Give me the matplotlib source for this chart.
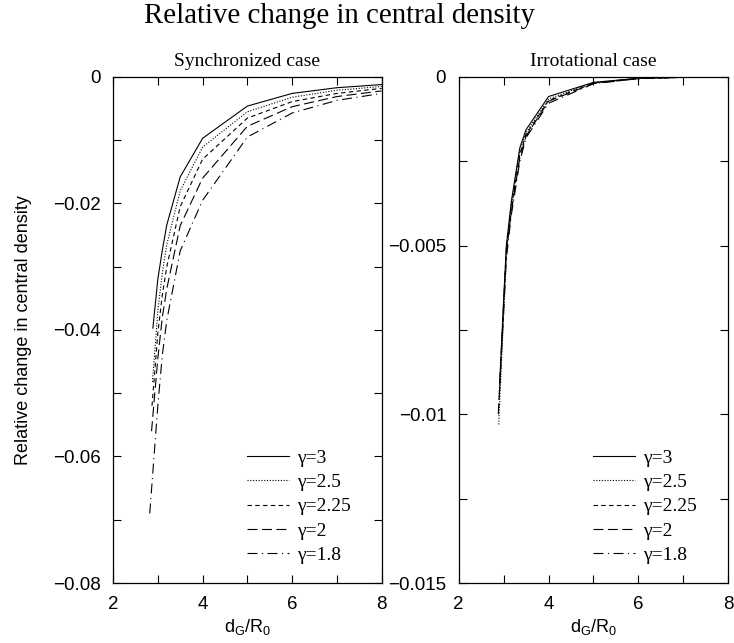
import matplotlib
matplotlib.use('Agg')
import matplotlib.pyplot as plt
from matplotlib.ticker import MultipleLocator

gammas = ['3', '2.5', '2.25', '2', '1.8']

# synchronized case
sync_x = {
    '3':    [2.89, 3.0, 3.1, 3.2, 3.5, 4, 5, 6, 7, 8],
    '2.5':  [2.88, 3.0, 3.1, 3.2, 3.5, 4, 5, 6, 7, 8],
    '2.25': [2.87, 3.0, 3.1, 3.2, 3.5, 4, 5, 6, 7, 8],
    '2':    [2.86, 3.0, 3.1, 3.2, 3.5, 4, 5, 6, 7, 8],
    '1.8':  [2.82, 3.0, 3.1, 3.2, 3.5, 4, 5, 6, 7, 8],
}
sync_y = {
    '3':    [-0.0397, -0.0320, -0.0274, -0.0234, -0.0158, -0.0097, -0.0046, -0.0026, -0.0017, -0.0012],
    '2.5':  [-0.0482, -0.0370, -0.0310, -0.0265, -0.0180, -0.0111, -0.0055, -0.0032, -0.0021, -0.0015],
    '2.25': [-0.0520, -0.0405, -0.0345, -0.0300, -0.0205, -0.0130, -0.0065, -0.0039, -0.0026, -0.0018],
    '2':    [-0.0560, -0.0445, -0.0380, -0.0335, -0.0235, -0.0160, -0.0078, -0.0047, -0.0031, -0.0022],
    '1.8':  [-0.0690, -0.0520, -0.0440, -0.0385, -0.0275, -0.0195, -0.0095, -0.0057, -0.0037, -0.0026],
}

# irrotational case
irr_x = {
    '3':    [2.91, 3.0, 3.06, 3.17, 3.36, 3.5, 4, 5, 6, 7, 8],
    '2.5':  [2.89, 3.0, 3.06, 3.17, 3.36, 3.5, 4, 5, 6, 7, 8],
    '2.25': [2.89, 3.0, 3.06, 3.17, 3.36, 3.5, 4, 5, 6, 7, 8],
    '2':    [2.90, 3.0, 3.06, 3.17, 3.36, 3.5, 4, 5, 6, 7, 8],
    '1.8':  [2.88, 3.0, 3.06, 3.17, 3.36, 3.5, 4, 5, 6, 7, 8],
}
irr_y = {
    '3':    [-0.0091, -0.0066, -0.0050, -0.0037, -0.0021, -0.00156, -0.00058, -0.00016, -0.00004, -0.00001, 0.0],
    '2.5':  [-0.0103, -0.0070, -0.0052, -0.0038, -0.0022, -0.00165, -0.00065, -0.00017, -0.00004, -0.00001, 0.0],
    '2.25': [-0.0098, -0.0068, -0.0051, -0.0039, -0.0023, -0.00170, -0.00070, -0.00018, -0.00004, -0.00001, 0.0],
    '2':    [-0.0095, -0.0067, -0.0052, -0.0040, -0.0024, -0.00175, -0.00072, -0.00019, -0.00005, -0.00001, 0.0],
    '1.8':  [-0.0100, -0.0070, -0.0054, -0.0041, -0.0025, -0.00180, -0.00078, -0.00020, -0.00005, -0.00001, 0.0],
}

styles = {
    '3': '-',
    '2.5': (0, (1, 1.5)),
    '2.25': (0, (4, 3)),
    '2': (0, (9, 4)),
    '1.8': (0, (9, 4, 1, 4)),
}

serif = 'Liberation Serif'
sans = 'Liberation Sans'

fig = plt.figure(figsize=(7.34, 6.43), dpi=100)
ax1 = fig.add_axes([0.154, 0.0933, 0.366, 0.787])
ax2 = fig.add_axes([0.625, 0.0933, 0.367, 0.787])

for g in gammas:
    ax1.plot(sync_x[g], sync_y[g], color='black', lw=0.8, linestyle=styles[g], label='\u03b3=' + g)
    ax2.plot(irr_x[g], irr_y[g], color='black', lw=0.8, linestyle=styles[g], label='\u03b3=' + g)

ax1.set_ylim(-0.08, 0)
ax1.set_yticks([0, -0.02, -0.04, -0.06, -0.08])
ax1.set_yticklabels(['0', '\u22120.02', '\u22120.04', '\u22120.06', '\u22120.08'])
ax1.yaxis.set_minor_locator(MultipleLocator(0.01))

ax2.set_ylim(-0.015, 0)
ax2.set_yticks([0, -0.005, -0.01, -0.015])
ax2.set_yticklabels(['0', '\u22120.005', '\u22120.01', '\u22120.015'])
ax2.yaxis.set_minor_locator(MultipleLocator(0.0025))

for ax in (ax1, ax2):
    ax.set_xlim(2, 8)
    ax.set_xticks([2, 4, 6, 8])
    ax.set_xticklabels(['2', '4', '6', '8'])
    ax.xaxis.set_minor_locator(MultipleLocator(1))
    ax.tick_params(which='both', direction='in', top=True, right=True, labelsize=13.5, pad=9)
    ax.tick_params(which='both', length=6, width=0.8)
    for lab in ax.get_xticklabels() + ax.get_yticklabels():
        lab.set_family(sans)
    for s in ax.spines.values():
        s.set_linewidth(0.9)
    ax.set_xlabel('d$_\\mathregular{G}$/R$_\\mathregular{0}$', family=sans, fontsize=13, labelpad=3)
    ax.legend(loc='upper left', bbox_to_anchor=(0.5, 0.265), frameon=False,
              handlelength=2.15, handletextpad=0.4, labelspacing=0.35,
              borderpad=0, borderaxespad=0, prop={'family': serif, 'size': 14})

ax1.set_ylabel('Relative change in central density', family=sans, fontsize=13, labelpad=15)
ax1.set_title('Synchronized case', family=serif, fontsize=14, pad=8)
ax2.set_title('Irrotational case', family=serif, fontsize=14, pad=8)
fig.text(0.463, 0.964, 'Relative change in central density', family=serif, fontsize=20.8,
         ha='center', va='baseline')

fig.savefig('out.png', dpi=100)
